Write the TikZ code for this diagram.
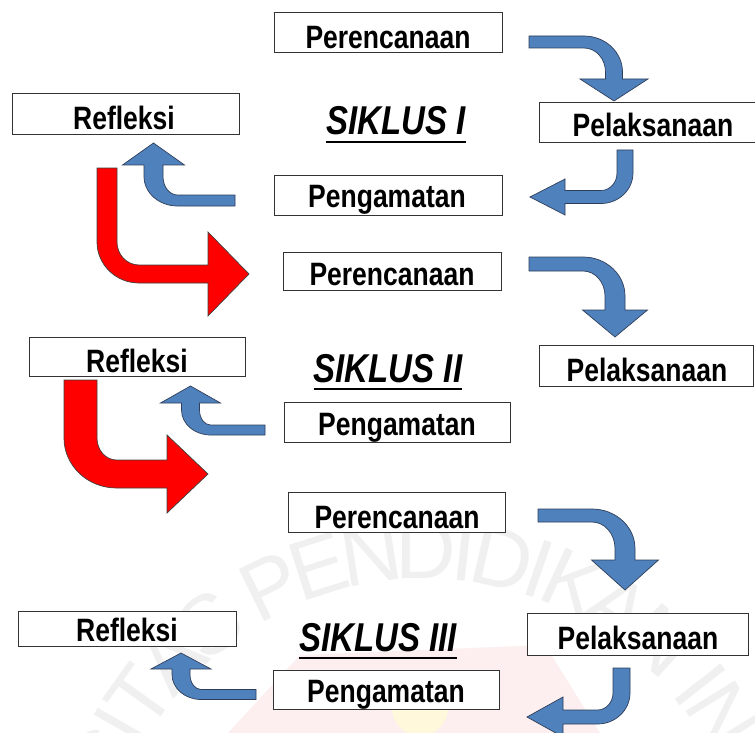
\documentclass[tikz,border=0pt]{standalone}
\usepackage{graphicx}
\usepackage{fontspec}
\setmainfont{Liberation Sans}
\definecolor{arrblue}{HTML}{4F81BD}
\definecolor{arredge}{HTML}{2F3F5A}
\definecolor{wmgray}{HTML}{F0F0F0}
\definecolor{wmpink}{HTML}{FDEFEF}
\definecolor{wmyellow}{HTML}{FFF8DA}
\newcommand{\bentarr}[8]{%
  \path[#8] (0,{-#3/2}) -- ({#1-#5},{-#3/2})
   .. controls ({#1-#5+0.5523*(#5+#4/2)},{-#3/2}) and ({#1+#4/2},{#5-0.5523*(#5+#3/2)}) .. ({#1+#4/2},{#5})
   -- ({#1+#4/2},{#2-#6}) -- ({#1+#7},{#2-#6}) -- (#1,#2) -- ({#1-#7},{#2-#6}) -- ({#1-#4/2},{#2-#6}) -- ({#1-#4/2},{#5})
   .. controls ({#1-#4/2},{#5-0.5523*(#5-#3/2)}) and ({#1-#5+0.5523*(#5-#4/2)},{#3/2}) .. ({#1-#5},{#3/2})
   -- (0,{#3/2}) -- cycle;}
\newcommand{\boxat}[5]{%
  \node[box, anchor=north west, minimum width={#4-#2}, minimum height={#5-#3}] (#1) at (#2,#3) {};}
\newcommand{\tall}[1]{\scalebox{1}[1.22]{#1}}
\begin{document}
\begin{tikzpicture}[x=1pt,y=-1pt,
  box/.style={draw=black!80, fill=white, line width=0.9pt, inner sep=0pt},
  lbl/.style={anchor=base, inner sep=0pt, font=\bfseries\fontsize{26.5}{30}\selectfont},
  cyc/.style={anchor=base, inner sep=0pt, font=\bfseries\itshape\fontsize{33}{36}\selectfont},
  uline/.style={line width=2.8pt},
  bluearr/.style={fill=arrblue, draw=arredge, line width=0.7pt, line join=miter},
  redarr/.style={fill=red, draw=black!75, line width=0.7pt, line join=miter},
  wm/.style={inner sep=0pt, text=wmgray, font=\fontsize{84}{86}\selectfont}]
\useasboundingbox (0,0) rectangle (755,733);
\clip (0,0) rectangle (755,733);
\fill[white] (0,0) rectangle (755,733);
% faint watermark
\fill[wmpink] (228,733) -- (300,655) -- (545,645) -- (600,733) -- cycle;
\fill[wmyellow] (420,708) circle[radius=28];
\foreach \ch/\c [count=\i] in {S/-0.917, I/-0.4445, T/0, A/0.639, S/1.306, P/2.25, E/2.917, N/3.611, D/4.333, I/4.833, D/5.333, I/5.833, K/6.306, A/6.973, N/7.667, I/8.445, N/8.945, D/9.667}{
  \pgfmathsetmacro\ang{-54.5+12.61*\c}
  \node[wm, rotate=-\ang, name=wm\i] at ({425+350*sin(\ang)},{900-350*cos(\ang)}) {\ch};
}
% cycle I
\boxat{p1}{274}{12}{502}{52}
\node[lbl] (p1t) at (388,49) {\tall{Perencanaan}};
\boxat{r1}{12}{93}{239}{134}
\node[lbl] (r1t) at (124,130) {\tall{Refleksi}};
\node[cyc] (s1) at (396,135) {\tall{SIKLUS I}};
\draw[uline] ([yshift=-7pt]s1.base west) -- ([yshift=-7pt]s1.base east);
\boxat{l1}{539}{102}{770}{142}
\node[lbl] (l1t) at (653,137) {\tall{Pelaksanaan}};
\boxat{g1}{274}{175}{502}{215}
\node[lbl] (g1t) at (387,207) {\tall{Pengamatan}};
% cycle II
\boxat{p2}{283}{252}{501}{290}
\node[lbl] (p2t) at (392,285) {\tall{Perencanaan}};
\boxat{r2}{29}{337}{245}{376}
\node[lbl] (r2t) at (137,372) {\tall{Refleksi}};
\node[cyc] (s2) at (388,382) {\tall{SIKLUS II}};
\draw[uline] ([yshift=-7pt]s2.base west) -- ([yshift=-7pt]s2.base east);
\boxat{l2}{539}{345}{753}{386}
\node[lbl] (l2t) at (647,381) {\tall{Pelaksanaan}};
\boxat{g2}{284}{402}{510}{442}
\node[lbl] (g2t) at (397,435) {\tall{Pengamatan}};
% cycle III
\boxat{p3}{288}{492}{505}{532}
\node[lbl] (p3t) at (397,528) {\tall{Perencanaan}};
\boxat{r3}{18}{611}{236}{646}
\node[lbl] (r3t) at (127,641) {\tall{Refleksi}};
\node[cyc] (s3) at (378,651) {\tall{SIKLUS III}};
\draw[uline] ([yshift=-7pt]s3.base west) -- ([yshift=-7pt]s3.base east);
\boxat{l3}{527}{613}{748}{655}
\node[lbl] (l3t) at (638,649) {\tall{Pelaksanaan}};
\boxat{g3}{273}{670}{499}{709}
\node[lbl] (g3t) at (386,702) {\tall{Pengamatan}};
% blue arrows: Perencanaan -> Pelaksanaan
\begin{scope}[shift={(529,42)}]\bentarr{85}{59}{12}{17}{30}{22}{34}{bluearr}\end{scope}
\begin{scope}[shift={(529,264)}]\bentarr{86}{73}{14}{20}{32}{27}{32.5}{bluearr}\end{scope}
\begin{scope}[shift={(538,515.5)}]\bentarr{87}{74.5}{13}{20}{33}{30}{33.5}{bluearr}\end{scope}
% Pelaksanaan -> Pengamatan
\begin{scope}[shift={(625,150)},rotate=-90]\bentarr{47}{95}{16}{13}{24}{35}{18}{bluearr}\end{scope}
\begin{scope}[shift={(621.5,668)},rotate=-90]\bentarr{49}{94.5}{17}{14}{24}{36}{20}{bluearr}\end{scope}
% Pengamatan -> Refleksi
\begin{scope}[shift={(235,200.5)},rotate=180]\bentarr{81.5}{57.5}{11}{19}{24}{22}{31}{bluearr}\end{scope}
\begin{scope}[shift={(265,430)},rotate=180]\bentarr{74.5}{44}{10}{18}{20}{17}{30}{bluearr}\end{scope}
\begin{scope}[shift={(256,694.5)},rotate=180]\bentarr{75}{41.5}{10}{18}{20}{16}{30}{bluearr}\end{scope}
% red arrows: Refleksi -> next Perencanaan
\begin{scope}[shift={(107,168)},cm={0,-1,-1,0,(0,0)}]\bentarr{106}{142}{20}{18}{32}{41}{42}{redarr}\end{scope}
\begin{scope}[shift={(80.5,380)},cm={0,-1,-1,0,(0,0)}]\bentarr{94}{127.5}{33}{28}{36}{41}{39}{redarr}\end{scope}
\end{tikzpicture}
\end{document}
